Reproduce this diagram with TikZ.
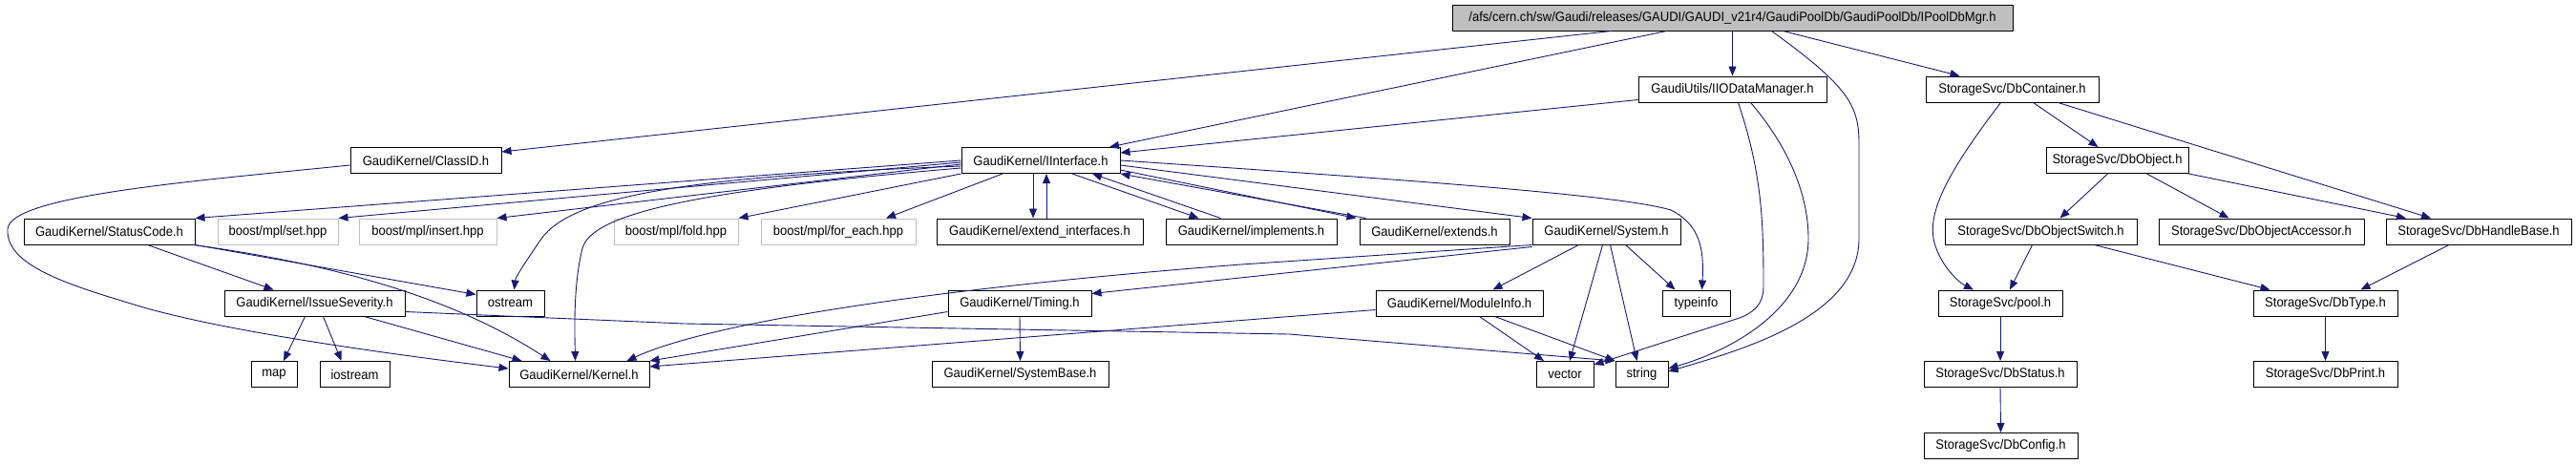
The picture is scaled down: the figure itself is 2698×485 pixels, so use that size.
\documentclass[tikz,border=0pt]{standalone}
\usepackage{fontspec}
\setmainfont[FakeStretch=0.93]{Liberation Sans}
\usetikzlibrary{arrows.meta}
\definecolor{edgeblue}{HTML}{191970}
\definecolor{boxgray}{HTML}{BFBFBF}

\begin{document}
\begin{tikzpicture}[x=1pt, y=-1pt, >={Triangle[length=10pt,width=8pt]},
    hdr/.style={draw=black, line width=1pt, minimum height=27pt, inner sep=0pt,
                font=\fontsize{14}{16}\selectfont},
    stdhdr/.style={hdr, draw=boxgray},
    topfile/.style={hdr, fill=boxgray},
    dep/.style={->, draw=edgeblue, line width=0.9pt}]

    \useasboundingbox (0,0) rectangle (2698,485);

    % File whose graph is drawn
    \node[topfile, minimum width=587pt] (top) at (1814.5,18.5)
        {/afs/cern.ch/sw/Gaudi/releases/GAUDI/GAUDI\_v21r4/GaudiPoolDb/GaudiPoolDb/IPoolDbMgr.h};

    % Second level
    \node[hdr, minimum width=197pt] (iodm) at (1814.5,93.5) {GaudiUtils/IIODataManager.h};
    \node[hdr, minimum width=181pt] (dbcont) at (2107.5,93.5) {StorageSvc/DbContainer.h};

    % Third level
    \node[hdr, minimum width=158pt] (classid) at (446,168) {GaudiKernel/ClassID.h};
    \node[hdr, minimum width=166pt] (iinterface) at (1090,168) {GaudiKernel/IInterface.h};
    \node[hdr, minimum width=149pt] (dbobject) at (2217.5,168) {StorageSvc/DbObject.h};

    % Fourth level
    \node[hdr, minimum width=179pt] (statuscode) at (114.5,242.5) {GaudiKernel/StatusCode.h};
    \node[stdhdr, minimum width=126pt] (mplset) at (291,242.5) {boost/mpl/set.hpp};
    \node[stdhdr, minimum width=144pt] (mplinsert) at (448,242.5) {boost/mpl/insert.hpp};
    \node[stdhdr, minimum width=130pt] (mplfold) at (708,242.5) {boost/mpl/fold.hpp};
    \node[stdhdr, minimum width=162pt] (mplforeach) at (878,242.5) {boost/mpl/for\_each.hpp};
    \node[hdr, minimum width=216pt] (extendif) at (1089,242.5) {GaudiKernel/extend\_interfaces.h};
    \node[hdr, minimum width=179pt] (implements) at (1310.5,242.5) {GaudiKernel/implements.h};
    \node[hdr, minimum width=157pt] (extends) at (1502.5,242.5) {GaudiKernel/extends.h};
    \node[hdr, minimum width=155pt] (system) at (1682.5,242.5) {GaudiKernel/System.h};
    \node[hdr, minimum width=201pt] (dbobjswitch) at (2137.5,242.5) {StorageSvc/DbObjectSwitch.h};
    \node[hdr, minimum width=215pt] (dbobjacc) at (2368.5,242.5) {StorageSvc/DbObjectAccessor.h};
    \node[hdr, minimum width=194pt] (dbhandle) at (2596,242.5) {StorageSvc/DbHandleBase.h};

    % Fifth level
    \node[hdr, minimum width=189pt] (issuesev) at (329.5,317.5) {GaudiKernel/IssueSeverity.h};
    \node[hdr, minimum width=71pt] (ostream) at (534.5,317.5) {ostream};
    \node[hdr, minimum width=150pt] (timing) at (1068,317.5) {GaudiKernel/Timing.h};
    \node[hdr, minimum width=175pt] (moduleinfo) at (1528.5,317.5) {GaudiKernel/ModuleInfo.h};
    \node[hdr, minimum width=71pt] (typeinfo) at (1776.5,317.5) {typeinfo};
    \node[hdr, minimum width=130pt] (pool) at (2095,317.5) {StorageSvc/pool.h};
    \node[hdr, minimum width=151pt] (dbtype) at (2435.5,317.5) {StorageSvc/DbType.h};

    % Sixth level
    \node[hdr, minimum width=48pt] (map) at (287,392) {map};
    \node[hdr, minimum width=73pt] (iostream) at (371.5,392) {iostream};
    \node[hdr, minimum width=147pt] (kernel) at (606.5,392) {GaudiKernel/Kernel.h};
    \node[hdr, minimum width=185pt] (systembase) at (1068.5,392) {GaudiKernel/SystemBase.h};
    \node[hdr, minimum width=60pt] (vector) at (1639,392) {vector};
    \node[hdr, minimum width=55pt] (string) at (1719.5,392) {string};
    \node[hdr, minimum width=160pt] (dbstatus) at (2095,392) {StorageSvc/DbStatus.h};
    \node[hdr, minimum width=151pt] (dbprint) at (2435.5,392) {StorageSvc/DbPrint.h};

    % Last level
    \node[hdr, minimum width=161pt] (dbconfig) at (2095.5,467) {StorageSvc/DbConfig.h};

    % Includes of the top file
    \draw[dep] ([xshift=-127pt]top.south) -- ([yshift=9pt]classid.east);
    \draw[dep] ([xshift=-69pt]top.south) -- ([xshift=72pt]iinterface.north);
    \draw[dep] (top.south) -- (iodm.north);
    \draw[dep] ([xshift=41pt]top.south) .. controls (1935,90) and (1947,110) .. (1947,150)
        -- (1947,250) .. controls (1947,330) and (1830,365) .. ([yshift=3pt]string.east);
    \draw[dep] ([xshift=53pt]top.south) -- ([xshift=-55pt]dbcont.north);

    % GaudiUtils/IIODataManager.h
    \draw[dep] ([yshift=-11pt]iodm.west) -- ([yshift=8pt]iinterface.east);
    \draw[dep] ([xshift=19pt]iodm.south) .. controls (1870,150) and (1894,200) .. (1894,250)
        .. controls (1894,320) and (1820,365) .. ([yshift=6pt]string.east);
    \draw[dep] ([xshift=6pt]iodm.south) .. controls (1845,180) and (1847,230) .. (1847,300)
        .. controls (1847,320) and (1835,328) .. (1822,333) -- ([yshift=10pt]vector.east);

    % GaudiKernel/ClassID.h
    \draw[dep] ([yshift=-5pt]classid.west) .. controls (200,190) and (10,205) .. (8,240)
        .. controls (6,275) and (60,295) .. (134,317) .. controls (220,345) and (400,370)
        .. ([yshift=6pt]kernel.west);

    % GaudiKernel/IInterface.h
    \draw[dep] (iinterface.west) -- (statuscode.north east);
    \draw[dep] ([yshift=-2pt]iinterface.west) -- (mplset.north east);
    \draw[dep] ([yshift=-4pt]iinterface.west) -- (mplinsert.north east);
    \draw[dep] (iinterface.south west) -- (mplfold.north east);
    \draw[dep] ([xshift=-40pt]iinterface.south) -- ([xshift=50pt]mplforeach.north);
    \draw[dep] ([xshift=-8pt]iinterface.south) -- ([xshift=-7pt]extendif.north);
    \draw[dep] ([xshift=7pt]extendif.north) -- ([xshift=6pt]iinterface.south);
    \draw[dep] ([xshift=33pt]iinterface.south) -- ([xshift=-55pt]implements.north);
    \draw[dep] ([xshift=-32pt]implements.north) -- ([xshift=54pt]iinterface.south);
    \draw[dep] ([yshift=-10pt]iinterface.east) -- ([xshift=-82pt]extends.north);
    \draw[dep] ([xshift=-72pt]extends.north) -- (iinterface.south east);
    \draw[dep] ([yshift=-5pt]iinterface.east) -- (system.north west);
    \draw[dep] (iinterface.east) .. controls (1500,190) and (1700,205) .. (1750,220)
        .. controls (1780,235) and (1785,260) .. ([xshift=6pt]typeinfo.north);
    \draw[dep] ([yshift=-6pt]iinterface.west) .. controls (720,185) and (600,205) .. (567,250)
        .. controls (550,275) and (540,290) .. ([xshift=4pt]ostream.north);
    \draw[dep] ([yshift=-8pt]iinterface.west) .. controls (720,200) and (620,225) .. (610,260)
        .. controls (600,300) and (602,350) .. ([xshift=-4pt]kernel.north);

    % GaudiKernel/StatusCode.h
    \draw[dep] ([xshift=40pt]statuscode.south) -- ([xshift=-43pt]issuesev.north);
    \draw[dep] (statuscode.south east) -- ([yshift=9pt]ostream.west);
    \draw[dep] ([xshift=-2pt]statuscode.south east) .. controls (360,278) and (480,315)
        .. ([xshift=-30pt]kernel.north);

    % GaudiKernel/IssueSeverity.h
    \draw[dep] ([xshift=-10pt]issuesev.south) -- ([xshift=10pt]map.north);
    \draw[dep] ([xshift=9pt]issuesev.south) -- ([xshift=-14pt]iostream.north);
    \draw[dep] ([xshift=52pt]issuesev.south) -- ([xshift=-60pt]kernel.north);
    \draw[dep] ([yshift=-9pt]issuesev.east) -- (717,339) -- (1350,350) -- (string.north west);

    % GaudiKernel/System.h
    \draw[dep] (system.south west) -- (1300,277) .. controls (1000,300) and (750,335)
        .. ([xshift=50pt]kernel.north);
    \draw[dep] ([yshift=-2pt]system.south west) -- ([yshift=10pt]timing.east);
    \draw[dep] ([xshift=-29pt]system.south) -- ([xshift=35pt]moduleinfo.north);
    \draw[dep] ([xshift=-4pt]system.south) -- ([xshift=5pt]vector.north);
    \draw[dep] ([xshift=4pt]system.south) -- ([xshift=-5pt]string.north);
    \draw[dep] ([xshift=20pt]system.south) -- ([xshift=-22pt]typeinfo.north);

    % GaudiKernel/Timing.h
    \draw[dep] ([yshift=-9pt]timing.west) -- (kernel.north east);
    \draw[dep] (timing.south) -- (systembase.north);

    % GaudiKernel/ModuleInfo.h
    \draw[dep] ([yshift=-7pt]moduleinfo.west) -- ([yshift=8pt]kernel.east);
    \draw[dep] ([xshift=21pt]moduleinfo.south) -- ([xshift=-22pt]vector.north);
    \draw[dep] ([xshift=37pt]moduleinfo.south) -- (string.north west);

    % StorageSvc part
    \draw[dep] ([xshift=-12pt]dbcont.south) .. controls (2040,180) and (2020,220) .. (2025,250)
        .. controls (2030,275) and (2050,295) .. ([xshift=-28pt]pool.north);
    \draw[dep] ([xshift=22pt]dbcont.south) -- ([xshift=-20pt]dbobject.north);
    \draw[dep] ([xshift=48pt]dbcont.south) -- ([xshift=-50pt]dbhandle.north);
    \draw[dep] ([xshift=-10pt]dbobject.south) -- ([xshift=20pt]dbobjswitch.north);
    \draw[dep] ([xshift=31pt]dbobject.south) -- ([xshift=-34pt]dbobjacc.north);
    \draw[dep] (dbobject.south east) -- ([xshift=-76pt]dbhandle.north);
    \draw[dep] ([xshift=-9pt]dbobjswitch.south) -- ([xshift=10pt]pool.north);
    \draw[dep] ([xshift=56pt]dbobjswitch.south) -- ([xshift=-58pt]dbtype.north);
    \draw[dep] ([xshift=-31pt]dbhandle.south) -- ([xshift=37pt]dbtype.north);
    \draw[dep] (pool.south) -- (dbstatus.north);
    \draw[dep] (dbstatus.south) -- (dbconfig.north);
    \draw[dep] (dbtype.south) -- (dbprint.north);
\end{tikzpicture}
\end{document}
